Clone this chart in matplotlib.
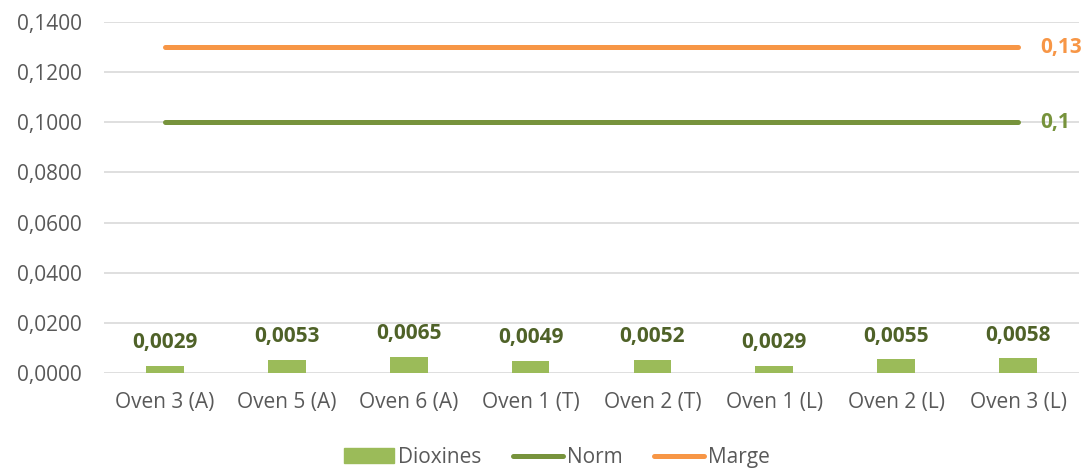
import matplotlib
matplotlib.use('Agg')
import matplotlib.pyplot as plt
from matplotlib.patches import Patch
from matplotlib.lines import Line2D
import numpy as np

# chart data
ovens = ['Oven 3 (A)', 'Oven 5 (A)', 'Oven 6 (A)', 'Oven 1 (T)',
         'Oven 2 (T)', 'Oven 1 (L)', 'Oven 2 (L)', 'Oven 3 (L)']
dioxines = [0.0029, 0.0053, 0.0065, 0.0049, 0.0052, 0.0029, 0.0055, 0.0058]
norm = [0.1] * 8
marge = [0.13] * 8
y_ticks = [0.0, 0.02, 0.04, 0.06, 0.08, 0.10, 0.12, 0.14]

bar_color = '#9BBB59'
norm_color = '#77933C'
marge_color = '#F79646'
label_color = '#4F6228'
text_grey = '#595959'

plt.rcParams['font.family'] = ['Open Sans', 'DejaVu Sans']

fig = plt.figure(figsize=(10.86, 4.70), dpi=100)
ax = fig.add_axes([0.0958, 0.2064, 0.8977, 0.7466])

x = np.arange(len(ovens))
ax.bar(x, dioxines, width=0.31, color=bar_color, zorder=3)
ax.plot(x, norm, color=norm_color, lw=3.6, solid_capstyle='round', zorder=4)
ax.plot(x, marge, color=marge_color, lw=3.6, solid_capstyle='round', zorder=4)

# value labels above bars
for xi, v in zip(x, dioxines):
    ax.annotate(f'{v:.4f}'.replace('.', ','), (xi, v), xytext=(0, 9),
                textcoords='offset points', ha='center', va='bottom',
                fontsize=15, fontweight='bold', color=label_color)

# end labels for the lines
ax.annotate(f'{norm[-1]:g}'.replace('.', ','), (x[-1], norm[-1]), xytext=(16, 0),
            textcoords='offset points', ha='left', va='center',
            fontsize=15, fontweight='bold', color=norm_color)
ax.annotate(f'{marge[-1]:g}'.replace('.', ','), (x[-1], marge[-1]), xytext=(16, 0),
            textcoords='offset points', ha='left', va='center',
            fontsize=15, fontweight='bold', color=marge_color)

ax.set_xlim(-0.5, len(ovens) - 0.5)
ax.set_ylim(0, 0.14)
ax.set_yticks(y_ticks)
ax.set_yticklabels([f'{t:.4f}'.replace('.', ',') for t in y_ticks])
ax.set_xticks(x)
ax.set_xticklabels(ovens)
ax.tick_params(axis='both', length=0, labelsize=15, colors=text_grey)
ax.tick_params(axis='y', pad=16)
ax.tick_params(axis='x', pad=14)
ax.grid(axis='y', color='#D9D9D9', lw=1.2, zorder=0)
for s in ax.spines.values():
    s.set_visible(False)

handles = [Patch(color=bar_color),
           Line2D([], [], color=norm_color, lw=3.6, solid_capstyle='round'),
           Line2D([], [], color=marge_color, lw=3.6, solid_capstyle='round')]
fig.legend(handles, ['Dioxines', 'Norm', 'Marge'], loc='center',
           bbox_to_anchor=(0.513, 0.027), ncol=3, frameon=False,
           fontsize=15, labelcolor=text_grey, handlelength=2.4,
           handletextpad=0.2, columnspacing=1.5)

fig.savefig('out.png', dpi=100)
